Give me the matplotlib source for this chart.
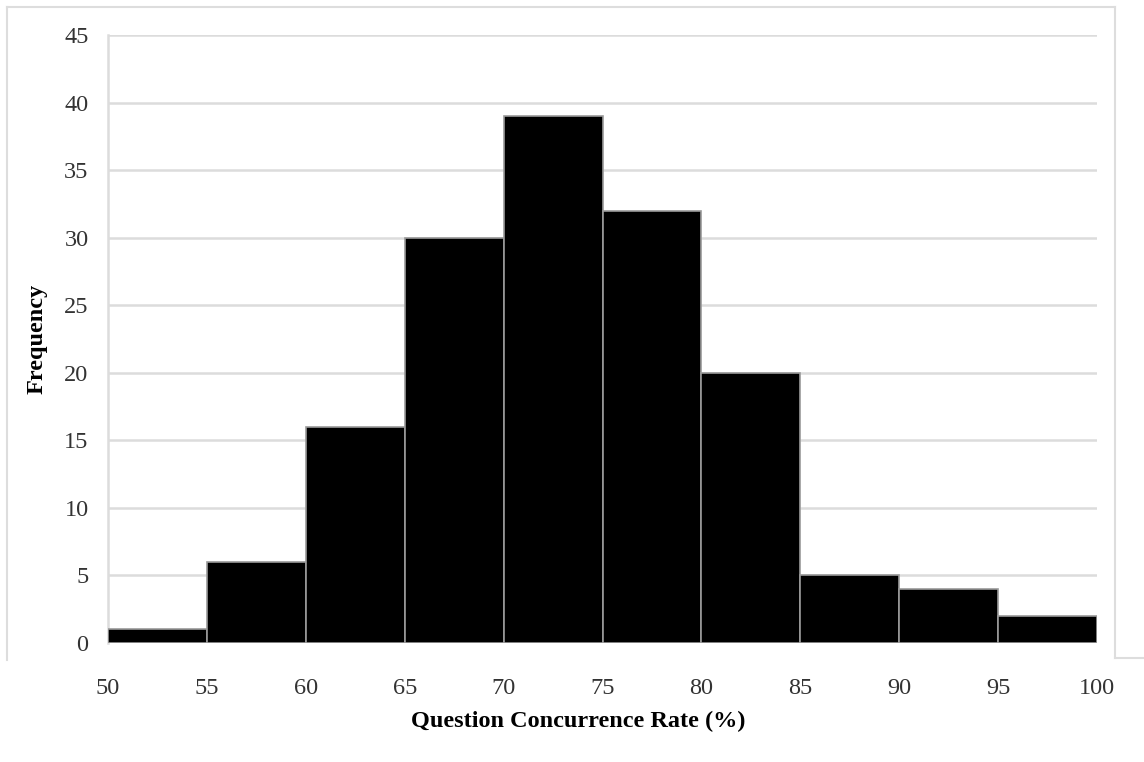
import matplotlib
matplotlib.use("Agg")
import matplotlib.pyplot as plt
from matplotlib.lines import Line2D
import numpy as np

bin_edges = [50, 55, 60, 65, 70, 75, 80, 85, 90, 95, 100]
frequencies = [1, 6, 16, 30, 39, 32, 20, 5, 4, 2]
x_ticks = [50, 55, 60, 65, 70, 75, 80, 85, 90, 95, 100]
y_ticks = [0, 5, 10, 15, 20, 25, 30, 35, 40, 45]

plt.rcParams['font.family'] = ['Liberation Serif', 'DejaVu Serif']

fig = plt.figure(figsize=(11.44, 7.62), dpi=100)
ax = fig.add_axes([108/1144, 1-643/762, (1097-108)/1144, (643-35)/762])

lefts = np.array(bin_edges[:-1])
widths = np.diff(bin_edges)
ax.bar(lefts, frequencies, width=widths, align='edge', color='black',
       edgecolor='#9a9a9a', linewidth=1.2, zorder=3)

ax.set_xlim(50, 100)
ax.set_ylim(0, 45)
ax.set_xticks(x_ticks)
ax.set_yticks(y_ticks)
ax.yaxis.grid(True, color='#dcdcdc', linewidth=1.8, zorder=0)
ax.set_axisbelow(True)
for s in ['top', 'right', 'bottom']:
    ax.spines[s].set_visible(False)
ax.spines['left'].set_color('#dcdcdc')
ax.spines['left'].set_linewidth(1.8)
ax.tick_params(axis='both', length=0, labelsize=17.5, labelcolor='#333333')
ax.tick_params(axis='y', pad=14)
ax.tick_params(axis='x', pad=25)

ax.set_xlabel('Question Concurrence Rate (%)', fontsize=17.5, fontweight='bold',
              labelpad=9, x=0.475)
ax.set_ylabel('Frequency', fontsize=17.5, fontweight='bold', labelpad=12)

# outer frame lines
def px(x, y):
    return (x/1144, 1-y/762)
frame_color = '#dddddd'
for (x0, y0, x1, y1) in [(7, 7, 1115, 7), (7, 7, 7, 660), (1115, 7, 1115, 658), (1115, 658, 1144, 658)]:
    a = px(x0, y0); b = px(x1, y1)
    fig.add_artist(Line2D([a[0], b[0]], [a[1], b[1]], color=frame_color, linewidth=1.5,
                          transform=fig.transFigure))

fig.savefig('out.png', dpi=100, facecolor='white')
